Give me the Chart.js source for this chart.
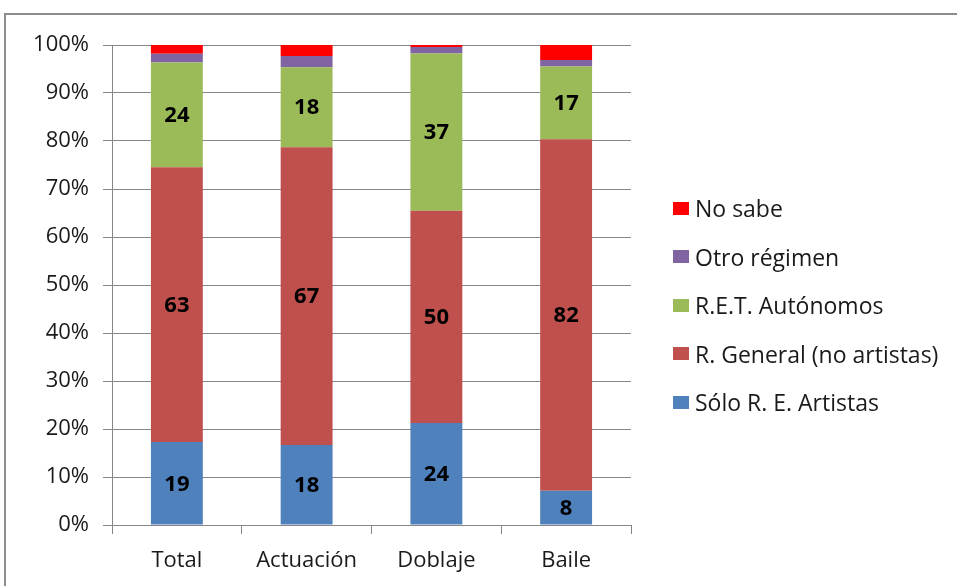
<!DOCTYPE html>
<html>
<head>
<meta charset="utf-8">
<script src="https://cdn.jsdelivr.net/npm/chart.js@4.4.0/dist/chart.umd.min.js"></script>
<style>
    html, body { margin: 0; padding: 0; background: #fff; overflow: hidden; }
    #wrap { position: relative; width: 957px; height: 586px; }
    #frame { position: absolute; left: 4px; top: 13px; width: 2000px; height: 2000px; border: 2px solid #8c8c8c; box-sizing: border-box; }
    #grafico { position: absolute; left: 0; top: 0; }
    #leyenda { position: absolute; left: 673px; top: 184px; font-family: "Open Sans", sans-serif; font-size: 23px; color: #1a1a1a; }
    #leyenda .item { height: 48.5px; display: flex; align-items: center; white-space: nowrap; }
    #leyenda .caja { display: inline-block; width: 16px; height: 13px; margin-right: 6px; }
</style>
</head>
<body>
<div id="wrap">
    <div id="frame"></div>
    <canvas id="grafico" width="957" height="586"></canvas>
    <div id="leyenda"></div>
</div>
<script>
// ===== DATOS =====
const categorias = ['Total', 'Actuación', 'Doblaje', 'Baile'];
const soloArtistas = [19, 18, 24, 8];
const regGeneral = [63, 67, 50, 82];
const retAutonomos = [24, 18, 37, 17];
const otroRegimen = [2, 2.5, 1.5, 1.5];
const noSabe = [2, 2.5, 0.5, 3.5];
const ticksY = [0, 10, 20, 30, 40, 50, 60, 70, 80, 90, 100];

const series = [
    { label: 'Sólo R. E. Artistas', valores: soloArtistas, color: '#4F81BD', etiqueta: true },
    { label: 'R. General (no artistas)', valores: regGeneral, color: '#C0504D', etiqueta: true },
    { label: 'R.E.T. Autónomos', valores: retAutonomos, color: '#9BBB59', etiqueta: true },
    { label: 'Otro régimen', valores: otroRegimen, color: '#8064A2', etiqueta: false },
    { label: 'No sabe', valores: noSabe, color: '#FF0000', etiqueta: false }
];

// totales por categoría para normalizar al 100%
const totales = categorias.map((c, i) => series.reduce((s, d) => s + d.valores[i], 0));

const datasets = series.map(s => ({
    label: s.label,
    data: s.valores.map((v, i) => v / totales[i] * 100),
    raw: s.valores,
    etiqueta: s.etiqueta,
    backgroundColor: s.color,
    borderWidth: 0,
    barPercentage: 0.4,
    categoryPercentage: 1
}));

// ===== ETIQUETAS DE DATOS =====
const etiquetasPlugin = {
    id: 'etiquetas',
    afterDatasetsDraw(chart) {
        const ctx = chart.ctx;
        ctx.save();
        ctx.font = 'bold 22px "Open Sans", sans-serif';
        ctx.fillStyle = '#000';
        ctx.textAlign = 'center';
        ctx.textBaseline = 'middle';
        chart.data.datasets.forEach((ds, di) => {
            if (!ds.etiqueta) return;
            chart.getDatasetMeta(di).data.forEach((bar, i) => {
                const p = bar.getProps(['x', 'y', 'base'], true);
                ctx.fillText(String(ds.raw[i]), p.x, (p.y + p.base) / 2 + 1);
            });
        });
        ctx.restore();
    }
};

const fuente = { family: '"Open Sans", sans-serif', size: 22 };

const chart = new Chart(document.getElementById('grafico').getContext('2d'), {
    type: 'bar',
    data: { labels: categorias, datasets: datasets },
    options: {
        responsive: false,
        animation: false,
        layout: { padding: { top: 45, right: 326, bottom: 0, left: 0 } },
        plugins: { legend: { display: false }, tooltip: { enabled: false } },
        scales: {
            x: {
                stacked: true,
                grid: { offset: true, drawOnChartArea: false, color: '#868686', tickLength: 9 },
                border: { color: '#868686' },
                ticks: { font: fuente, color: '#1a1a1a', padding: 14 },
                afterFit(scale) { scale.height = 61; }
            },
            y: {
                stacked: true,
                min: 0,
                max: 100,
                afterBuildTicks(scale) { scale.ticks = ticksY.map(v => ({ value: v })); },
                grid: { color: '#868686', tickLength: 9 },
                border: { color: '#868686' },
                ticks: { font: fuente, color: '#1a1a1a', padding: 14, callback: v => v + '%' },
                afterFit(scale) { scale.width = 112; }
            }
        }
    },
    plugins: [etiquetasPlugin]
});

// ===== LEYENDA =====
const leyenda = document.getElementById('leyenda');
series.slice().reverse().forEach(s => {
    const item = document.createElement('div');
    item.className = 'item';
    item.innerHTML = `<span class="caja" style="background:${s.color}"></span><span>${s.label}</span>`;
    leyenda.appendChild(item);
});
</script>
</body>
</html>
